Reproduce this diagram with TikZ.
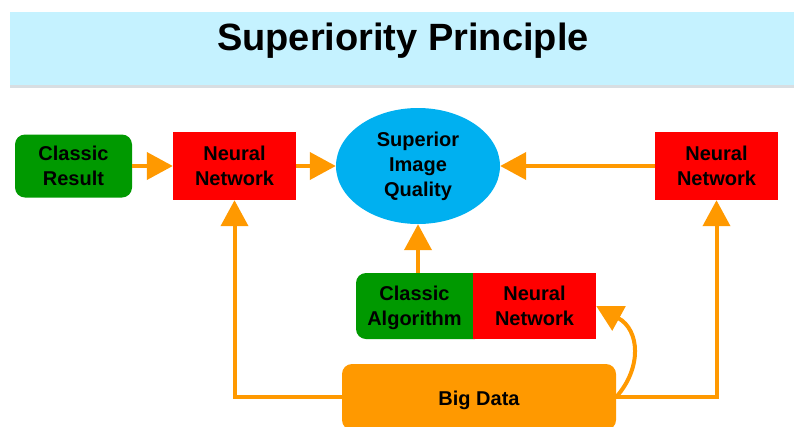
\documentclass[tikz,border=0pt]{standalone}
\usepackage{fontspec}
\setmainfont{Liberation Sans}
\usetikzlibrary{arrows.meta,shapes.geometric}
\definecolor{bannercyan}{HTML}{C5F2FF}
\definecolor{bannershade}{HTML}{D8DEE2}
\definecolor{boxgreen}{HTML}{009900}
\definecolor{boxred}{HTML}{FF0000}
\definecolor{flowornge}{HTML}{FF9900}
\definecolor{skyblue}{HTML}{00B0F0}
\tikzset{
  % a tall strut on the first line lowers the text slightly inside its box
  label/.style={font=\bfseries\fontsize{20}{25}\selectfont, text=black, align=center,
    inner sep=0pt, execute at begin node={\rule{0pt}{22pt}}},
  greenbox/.style={label, fill=boxgreen, rounded corners=10pt},
  redbox/.style={label, fill=boxred},
  flow/.style={draw=flowornge, line width=4pt, -{Triangle[width=27pt,length=26pt]}},
}
\begin{document}
\begin{tikzpicture}[x=1pt,y=-1pt]
  \useasboundingbox (0,0) rectangle (794,426);

  % title banner
  \fill[bannershade] (10,84) rectangle (794,88);
  \fill[bannercyan] (10,12) rectangle (794,85);
  \node[font=\bfseries\fontsize{38}{40}\selectfont, inner sep=0pt] (title) at (403,41) {Superiority Principle};

  % top row
  \node[greenbox, minimum width=117pt, minimum height=63pt] (cres) at (73.5,166) {Classic\\Result};
  \node[redbox, minimum width=123pt, minimum height=68pt] (nnl) at (234.5,166) {Neural\\Network};
  \node[ellipse, fill=skyblue, minimum width=164pt, minimum height=116pt, label] (sq) at (418,166) {Superior\\Image\\Quality};
  \node[redbox, minimum width=123pt, minimum height=68pt] (nnr) at (716.5,166) {Neural\\Network};

  % combined classic algorithm + neural network block
  \node[greenbox, minimum width=129pt, minimum height=66pt] (calg) at (420.5,306) {};
  \node[label] (calgtxt) at (414.5,308) {Classic\\Algorithm};
  \node[redbox, minimum width=123pt, minimum height=66pt] (nnm) at (534.5,306) {Neural\\Network};

  % big data block
  \node[label, fill=flowornge, rounded corners=10pt, minimum width=274pt, minimum height=66pt] (bd) at (479,397) {Big Data};

  % connectors
  \draw[flow] (cres.east) -- (nnl.west);
  \draw[flow] (nnl.east) -- (sq.west);
  \draw[flow] (nnr.west) -- (sq.east);
  \draw[flow] (sq.south |- calg.north) -- (sq.south);
  \draw[flow] (bd.west) -| (nnl.south);
  \draw[flow] (bd.east) -| (nnr.south);
  \draw[flow] (bd.east) .. controls (642,368) and (640,330) .. (nnm.east);
\end{tikzpicture}
\end{document}
